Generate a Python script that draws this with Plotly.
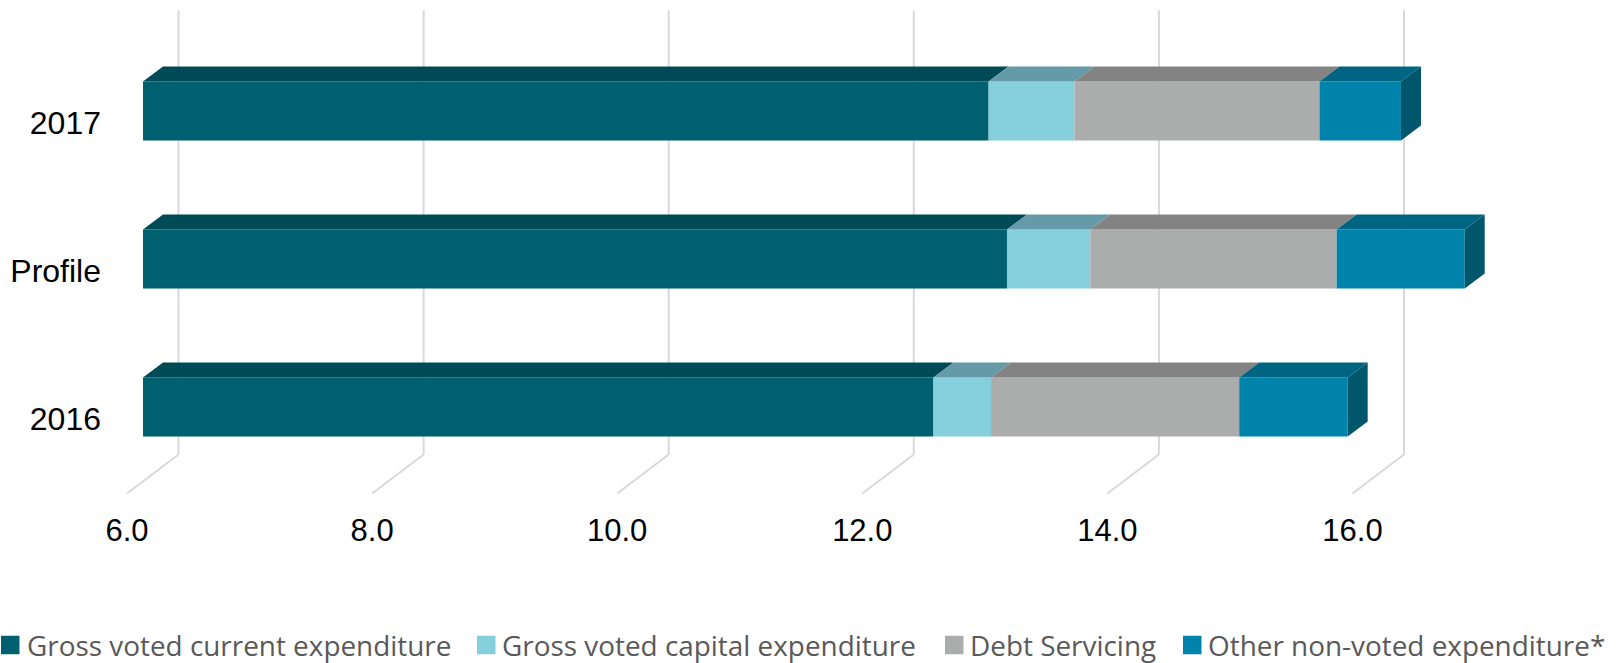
import plotly.graph_objects as go

years = ["2016", "Profile", "2017"]
current = [12.45, 13.05, 12.90]
capital = [0.47, 0.68, 0.70]
debt = [2.025, 2.01, 2.00]
other = [0.885, 1.045, 0.665]
x_ticks = [6, 8, 10, 12, 14, 16]
x_labels = ["6.0", "8.0", "10.0", "12.0", "14.0", "16.0"]
names = ["Gross voted current expenditure", "Gross voted capital expenditure",
         "Debt Servicing", "Other non-voted expenditure*"]
face_colors = ["#00606F", "#85CEDC", "#ABADAC", "#0083AA"]
top_colors = ["#004A56", "#659BA8", "#828382", "#006583"]
side_color = "#00566A"
grid_color = "#D9D9D9"

W, H = 1621, 663
ML, MB = 105, 168
PX_X = 122.55          # pixels per x unit
PX_Y = 148.0           # pixels per category
BAR_W = 0.4
DX, DY = 20 / PX_X, 15 / PX_Y                 # bar depth
FRONT_DX, BACK_DX = -16 / PX_X, 35.5 / PX_X   # floor relative to bar face
FLOOR_FRONT, FLOOR_BACK, WALL_TOP = -0.584, -0.321, 2.68
LABEL_SHIFT = 12 / PX_Y
Y_ZERO_PX = 407.0

y_pos = list(range(len(years)))
x0_axis = 6 - (143 - ML) / PX_X
x1_axis = 6 + (W - 143) / PX_X
y1_axis = Y_ZERO_PX / PX_Y
y0_axis = (Y_ZERO_PX - (H - MB)) / PX_Y

fig = go.Figure()
series = [current, capital, debt, other]
starts = [6.0] * len(years)
for k, vals in enumerate(series):
    if k == 0:
        ends = list(vals)
    else:
        ends = [s + v for s, v in zip(starts, vals)]
    fig.add_trace(go.Bar(
        y=y_pos, x=[e - s for e, s in zip(ends, starts)], base=starts,
        orientation="h", width=BAR_W, name=names[k], showlegend=False,
        marker=dict(color=face_colors[k], line=dict(width=0))))
    for i, yp in enumerate(y_pos):
        t = yp + BAR_W / 2
        fig.add_trace(go.Scatter(
            x=[starts[i], ends[i], ends[i] + DX, starts[i] + DX, starts[i]],
            y=[t, t, t + DY, t + DY, t],
            mode="lines", fill="toself", fillcolor=top_colors[k],
            line=dict(width=0), showlegend=False, hoverinfo="skip"))
    starts = ends

for i, yp in enumerate(y_pos):
    t, b = yp + BAR_W / 2, yp - BAR_W / 2
    e = starts[i]
    fig.add_trace(go.Scatter(
        x=[e, e + DX, e + DX, e, e], y=[t, t + DY, b + DY, b, t],
        mode="lines", fill="toself", fillcolor=side_color,
        line=dict(width=0), showlegend=False, hoverinfo="skip"))

shapes = []
for v in x_ticks:
    shapes.append(dict(type="line", xref="x", yref="y", layer="below",
                       x0=v + BACK_DX, x1=v + BACK_DX, y0=FLOOR_BACK, y1=WALL_TOP,
                       line=dict(color=grid_color, width=2)))
    shapes.append(dict(type="line", xref="x", yref="y", layer="below",
                       x0=v + FRONT_DX, x1=v + BACK_DX, y0=FLOOR_FRONT, y1=FLOOR_BACK,
                       line=dict(color=grid_color, width=2)))

# legend row, placed in pixels
plot_w, plot_h = W - ML, H - MB
def px(x): return (x - ML) / plot_w
def py(y): return 1 - y / plot_h
legend_swatch_x = [1, 477, 945, 1183]
legend_text_x = [25, 500, 968, 1206]
LEG_Y = 645
SW = 18.5
annotations = []
for k in range(4):
    shapes.append(dict(type="rect", xref="paper", yref="paper",
                       x0=px(legend_swatch_x[k]), x1=px(legend_swatch_x[k] + SW),
                       y0=py(LEG_Y + SW / 2), y1=py(LEG_Y - SW / 2),
                       fillcolor=face_colors[k], line=dict(width=0)))
    annotations.append(dict(xref="paper", yref="paper", x=px(legend_text_x[k]), y=py(LEG_Y),
                            xanchor="left", yanchor="middle", showarrow=False,
                            text=names[k], font=dict(family="Open Sans", size=27.9, color="#595959")))

fig.update_layout(
    width=W, height=H, autosize=False,
    margin=dict(l=ML, r=0, t=0, b=MB, pad=0),
    paper_bgcolor="white", plot_bgcolor="white",
    barmode="overlay", showlegend=False,
    shapes=shapes, annotations=annotations,
    font=dict(family="Liberation Sans", size=31, color="#000000"),
    xaxis=dict(range=[x0_axis, x1_axis], showgrid=False, zeroline=False, showline=False,
               tickmode="array", tickvals=[v + FRONT_DX for v in x_ticks], ticktext=x_labels,
               ticks="", ticklabelstandoff=14),
    yaxis=dict(range=[y0_axis, y1_axis], showgrid=False, zeroline=False, showline=False,
               tickmode="array", tickvals=[p - LABEL_SHIFT for p in y_pos], ticktext=years,
               ticks="", ticklabelstandoff=3, tickfont=dict(size=32)),
)
fig.write_html("out.html", config={"displayModeBar": False},
               post_script="document.body.style.margin='0';document.documentElement.style.overflow='hidden';")
